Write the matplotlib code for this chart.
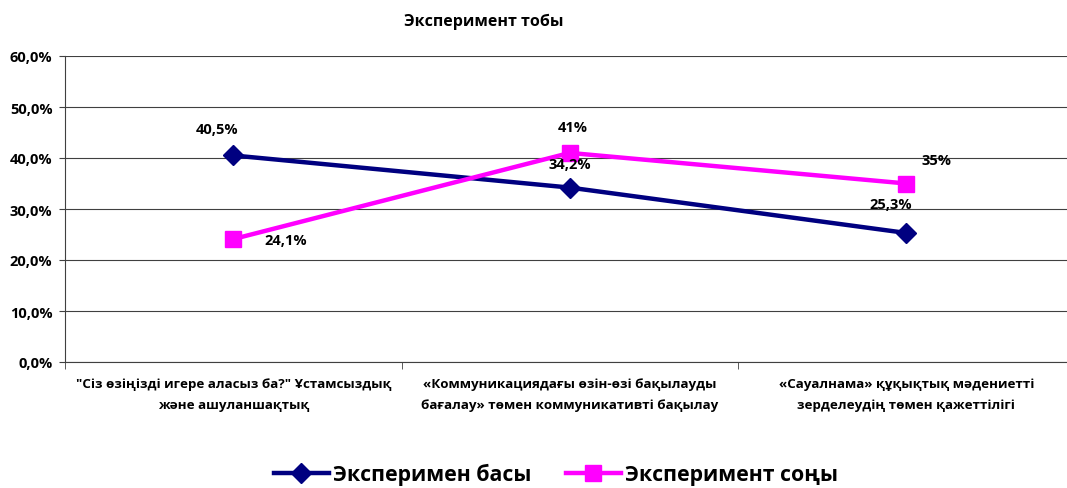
import matplotlib
matplotlib.use("Agg")
import matplotlib.pyplot as plt
from matplotlib.ticker import FuncFormatter, FixedLocator

categories = ['"Сіз өзіңізді игере аласыз ба?" Ұстамсыздық\nжәне ашуланшақтық',
              '«Коммуникациядағы өзін-өзі бақылауды\nбағалау» төмен коммуникативті бақылау',
              '«Сауалнама» құқықтық мәдениетті\nзерделеудің төмен қажеттілігі']
basy = [40.5, 34.2, 25.3]
sony = [24.1, 41.0, 35.0]
basy_labels = ['40,5%', '34,2%', '25,3%']
sony_labels = ['24,1%', '41%', '35%']
series_names = ['Эксперимен басы', 'Эксперимент соңы']
yticks = [0, 10, 20, 30, 40, 50, 60]

plt.rcParams['font.family'] = ['Open Sans', 'DejaVu Sans']
plt.rcParams['font.weight'] = 'bold'

fig = plt.figure(figsize=(10.67, 4.89), dpi=100)
ax = fig.add_axes([65/1067, 1-363/489, (1074.5-65)/1067, (363-57)/489])

x = list(range(len(categories)))
ax.plot(x, basy, color='#000080', lw=3.2, marker='D', ms=10, label=series_names[0], zorder=3)
ax.plot(x, sony, color='#FF00FF', lw=3.2, marker='s', ms=12, label=series_names[1], zorder=3)

ax.set_xlim(-0.5, 2.5)
ax.set_ylim(0, 60)
ax.yaxis.set_major_locator(FixedLocator(yticks))
ax.yaxis.set_major_formatter(FuncFormatter(lambda v, p: f"{v:.1f}%".replace('.', ',')))
ax.grid(axis='y', color='#404040', lw=0.8)
ax.set_axisbelow(True)
ax.set_xticks(x)
ax.set_xticklabels(categories, fontsize=9.6, fontweight='bold', linespacing=1.8)
ax.tick_params(axis='x', length=0, pad=11)
ax.set_xticks([-0.5, 0.5, 1.5], minor=True)
ax.tick_params(axis='x', which='minor', length=5, color='#404040')
ax.tick_params(axis='y', length=4, labelsize=10.5, color='#404040', pad=5)
for lab in ax.get_yticklabels():
    lab.set_fontweight('bold')
for s in ['top', 'right']:
    ax.spines[s].set_visible(False)
ax.spines['left'].set_color('#404040')
ax.spines['bottom'].set_color('#404040')

offs_b = [(-12, 19), (0, 17), (-11, 21)]
offs_s = [(38, -1), (2, 19), (22, 17)]
for i in x:
    ax.annotate(basy_labels[i], (i, basy[i]), xytext=offs_b[i], textcoords='offset points',
                ha='center', va='center', fontsize=10.5, fontweight='bold')
    ax.annotate(sony_labels[i], (i, sony[i]), xytext=offs_s[i], textcoords='offset points',
                ha='center', va='center', fontsize=10.5, fontweight='bold')

fig.text(484/1067, 1-22/489, 'Эксперимент тобы', ha='center', va='center', fontsize=11.5, fontweight='bold')

fig.legend(loc='center', bbox_to_anchor=(556/1067, 1-475/489), ncol=2, frameon=False,
           prop={'size': 15.3, 'weight': 'bold'}, handlelength=2.6, columnspacing=1.6, handletextpad=0.2)

fig.savefig('out.png', dpi=100)
